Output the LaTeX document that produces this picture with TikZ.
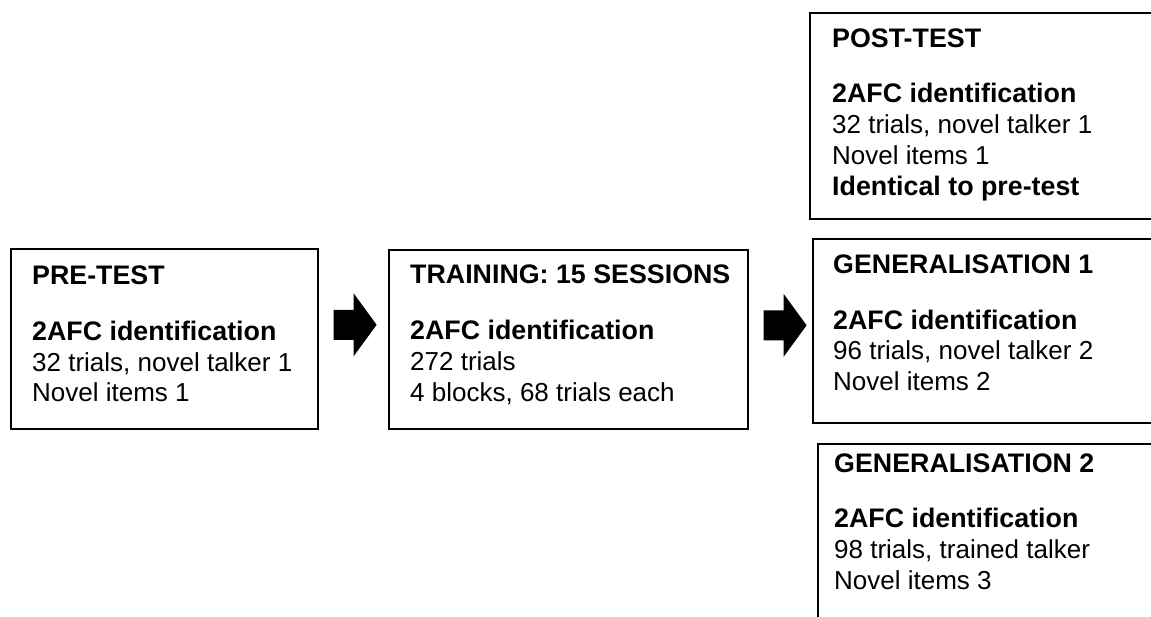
\documentclass[tikz,border=0pt]{standalone}
\usepackage{fontspec}
\setmainfont{Liberation Sans}
\usetikzlibrary{calc}

\newcommand\stagebf[1]{{\fontsize{26.8}{31}\selectfont\bfseries #1}}

\tikzset{
  stage/.style={draw,line width=1.6pt,rectangle,inner sep=0pt,anchor=north west},
  stagetext/.style={align=left,inner sep=0pt,anchor=base west,
    font=\fontsize{26}{31}\selectfont},
  blockarr/.pic={\fill (0,-15) -- (20,-15) -- (20,-31.5) -- (43,0) -- (20,31.5) -- (20,15) -- (0,15) -- cycle;}
}

\begin{document}
\begin{tikzpicture}[x=1pt,y=-1pt]
  \clip (0,0) rectangle (1151,617);

  \node[stage,minimum width=307pt,minimum height=180pt] (pre) at (10,248) {};
  \node[stage,minimum width=359pt,minimum height=179pt] (train) at (388,249) {};
  \node[stage,minimum width=400pt,minimum height=206pt] (post) at (809,12) {};
  \node[stage,minimum width=400pt,minimum height=184pt] (gen1) at (812,238) {};
  \node[stage,minimum width=400pt,minimum height=220pt] (gen2) at (817,443) {};

  % text nodes sit on the baseline of their last line
  \node[stagetext] (pretxt) at ([shift={(22,154)}]pre.north west)
    {\stagebf{PRE-TEST}\\[24pt]\stagebf{2AFC identification}\\32 trials, novel talker 1\\Novel items 1};
  \node[stagetext] (traintxt) at ([shift={(22,152)}]train.north west)
    {\stagebf{TRAINING: 15 SESSIONS}\\[24pt]\stagebf{2AFC identification}\\272 trials\\4 blocks, 68 trials each};
  \node[stagetext] (posttxt) at ([shift={(23,184)}]post.north west)
    {\stagebf{POST-TEST}\\[24pt]\stagebf{2AFC identification}\\32 trials, novel talker 1\\Novel items 1\\\stagebf{Identical to pre-test}};
  \node[stagetext] (gen1txt) at ([shift={(21,153)}]gen1.north west)
    {\stagebf{GENERALISATION 1}\\[24pt]\stagebf{2AFC identification}\\96 trials, novel talker 2\\Novel items 2};
  \node[stagetext] (gen2txt) at ([shift={(17,146)}]gen2.north west)
    {\stagebf{GENERALISATION 2}\\[24pt]\stagebf{2AFC identification}\\98 trials, trained talker\\Novel items 3};

  \pic at ([xshift=15pt,yshift=14pt]pre.east) {blockarr};
  \pic at ([xshift=15pt,yshift=14pt]train.east) {blockarr};
\end{tikzpicture}
\end{document}
